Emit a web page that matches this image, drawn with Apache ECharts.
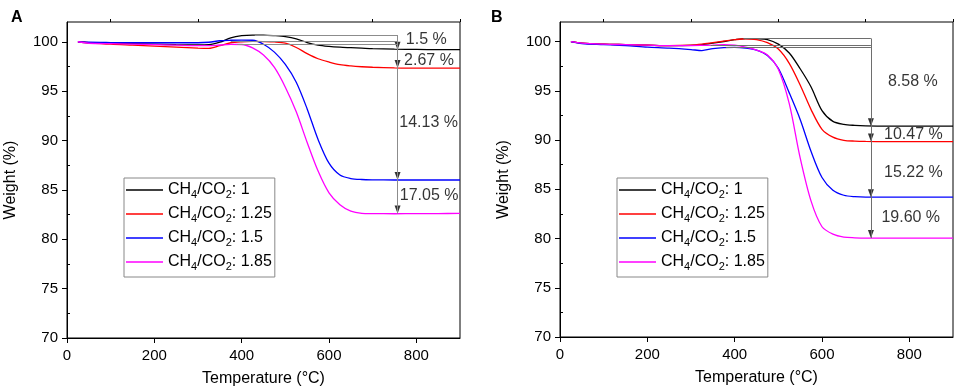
<!DOCTYPE html>
<html>
<head>
<meta charset="utf-8">
<script src="https://cdn.jsdelivr.net/npm/echarts@6/dist/echarts.min.js"></script>
<style>
  html, body { margin: 0; padding: 0; background: #fff; }
  #chart { width: 957px; height: 391px; }
</style>
</head>
<body>
<div id="chart"></div>
<script>
// temperature grid (°C) shared by all curves
const temps = [25, 50, 100, 150, 200, 250, 300, 325, 350, 375, 400, 425, 450, 475, 500, 525, 550, 575, 600, 625, 650, 675, 700, 750, 800, 850, 900];

const seriesNames = ['CH4/CO2: 1', 'CH4/CO2: 1.25', 'CH4/CO2: 1.5', 'CH4/CO2: 1.85'];
const colors = ['#000000', '#ff0000', '#0000ff', '#ff00ff'];

// panel A weights (%)
const weightA1 = [100.0, 99.9, 99.85, 99.8, 99.75, 99.7, 99.68, 99.7, 99.95, 100.4, 100.62, 100.68, 100.68, 100.62, 100.52, 100.3, 99.92, 99.66, 99.53, 99.45, 99.4, 99.35, 99.3, 99.25, 99.22, 99.2, 99.2];
const weightA2 = [100.0, 99.9, 99.75, 99.65, 99.55, 99.45, 99.35, 99.33, 99.6, 99.9, 100.0, 100.03, 100.02, 99.98, 99.85, 99.42, 98.8, 98.28, 97.95, 97.68, 97.55, 97.47, 97.42, 97.36, 97.33, 97.33, 97.33];
const weightA3 = [100.0, 99.95, 99.92, 99.9, 99.9, 99.9, 99.9, 99.95, 100.1, 100.15, 100.17, 100.15, 99.75, 98.95, 97.7, 95.9, 93.2, 90.1, 87.7, 86.5, 86.15, 86.05, 86.02, 86.0, 86.0, 86.0, 86.0];
const weightA4 = [100.0, 99.85, 99.8, 99.75, 99.7, 99.65, 99.6, 99.6, 99.67, 99.73, 99.72, 99.38, 98.65, 97.4, 95.4, 92.9, 89.8, 86.9, 84.7, 83.5, 82.85, 82.63, 82.6, 82.58, 82.6, 82.6, 82.62];

// panel B weights (%)
const weightB1 = [100.0, 99.85, 99.75, 99.7, 99.65, 99.6, 99.62, 99.7, 99.85, 100.02, 100.2, 100.32, 100.3, 100.22, 99.75, 98.85, 97.25, 95.4, 93.0, 91.9, 91.6, 91.5, 91.45, 91.42, 91.42, 91.42, 91.42];
const weightB2 = [100.0, 99.85, 99.75, 99.7, 99.65, 99.6, 99.65, 99.75, 99.9, 100.05, 100.2, 100.3, 100.22, 99.9, 99.25, 97.8, 95.6, 93.1, 91.1, 90.3, 89.98, 89.9, 89.87, 89.85, 89.85, 89.85, 89.85];
const weightB3 = [100.0, 99.8, 99.7, 99.6, 99.45, 99.35, 99.2, 99.1, 99.3, 99.4, 99.42, 99.35, 99.15, 98.6, 97.3, 94.8, 92.1, 88.85, 86.2, 84.9, 84.4, 84.25, 84.2, 84.2, 84.2, 84.2, 84.2];
const weightB4 = [100.0, 99.85, 99.75, 99.7, 99.65, 99.6, 99.6, 99.62, 99.65, 99.7, 99.65, 99.45, 99.15, 98.65, 97.2, 93.7, 88.2, 83.8, 81.2, 80.45, 80.15, 80.08, 80.05, 80.05, 80.05, 80.05, 80.05];

// axis ticks
const xMajor = [0, 200, 400, 600, 800];
const xMinor = [100, 300, 500, 700, 900];
const yMajor = [70, 75, 80, 85, 90, 95, 100];
const yMinor = [72.5, 77.5, 82.5, 87.5, 92.5, 97.5];

// weight-loss annotations: guide lines [start temp, level], arrow column, arrow stops, labels
const guidesA = [[430, 100.68], [375, 100.1], [390, 99.74]];
const arrowXA = 757;
const stopsA = [99.2, 97.33, 86.0, 82.6];
const lossLabelsA = [['1.5 %', 776, 100.17], ['2.67 %', 772, 98.08], ['14.13 %', 761, 91.8], ['17.05 %', 762, 84.47]];

const guidesB = [[420, 100.33], [345, 99.65], [380, 99.39]];
const arrowXB = 712;
const stopsB = [91.42, 89.85, 84.2, 80.05];
const lossLabelsB = [['8.58 %', 751, 95.9], ['10.47 %', 742, 90.6], ['15.22 %', 742, 86.7], ['19.60 %', 736, 82.13]];

const FONT = 'Liberation Sans, Arial, sans-serif';

const chart = echarts.init(document.getElementById('chart'));

function pairs(ys) {
  return temps.map((t, i) => [t, ys[i]]);
}

function axesFor(gridIndex) {
  const xMain = {
    type: 'value', gridIndex, min: 0, max: 900, interval: 100,
    name: 'Temperature (°C)', nameLocation: 'middle', nameGap: 33,
    nameTextStyle: { fontFamily: FONT, fontSize: 16, color: '#000' },
    axisLine: { lineStyle: { color: '#000', width: 1 } },
    axisTick: { customValues: xMajor, length: 5, inside: false, lineStyle: { color: '#000' } },
    axisLabel: { customValues: xMajor, fontFamily: FONT, fontSize: 15, color: '#000', margin: 10 },
    splitLine: { show: false }
  };
  const xMinorAxis = {
    type: 'value', gridIndex, min: 0, max: 900, interval: 100,
    axisLine: { show: false },
    axisTick: { customValues: xMinor, length: 3, lineStyle: { color: '#000' } },
    axisLabel: { show: false },
    splitLine: { show: false }
  };
  const yMain = {
    type: 'value', gridIndex, min: 70, max: 102, interval: 5,
    name: 'Weight (%)', nameLocation: 'middle', nameGap: 48,
    nameTextStyle: { fontFamily: FONT, fontSize: 16, color: '#000' },
    axisLine: { show: true, lineStyle: { color: '#000', width: 1 } },
    axisTick: { show: true, customValues: yMajor, length: 5, lineStyle: { color: '#000' } },
    axisLabel: { customValues: yMajor, fontFamily: FONT, fontSize: 15, color: '#000', margin: 9 },
    splitLine: { show: false }
  };
  const yMinorAxis = {
    type: 'value', gridIndex, min: 70, max: 102, interval: 5,
    axisLine: { show: false },
    axisTick: { show: true, customValues: yMinor, length: 3, lineStyle: { color: '#000' } },
    axisLabel: { show: false },
    splitLine: { show: false }
  };
  return { x: [xMain, xMinorAxis], y: [yMain, yMinorAxis] };
}

function panelSeries(axisIdx, weights, guides, arrowX, stops, lossLabels, guideColor) {
  const out = weights.map((w, i) => ({
    name: seriesNames[i],
    type: 'line',
    xAxisIndex: axisIdx, yAxisIndex: axisIdx,
    data: pairs(w),
    smooth: 0.3,
    symbol: 'none',
    lineStyle: { color: colors[i], width: 1.3 },
    itemStyle: { color: colors[i] },
    z: 3
  }));
  const lines = guides.map(g => [{ coord: [g[0], g[1]] }, { coord: [arrowX, g[1]] }]);
  lines.push([{ coord: [arrowX, guides[0][1]] }, { coord: [arrowX, stops[stops.length - 1]] }]);
  out.push({
    type: 'scatter',
    xAxisIndex: axisIdx, yAxisIndex: axisIdx,
    data: stops.map(v => [arrowX, v]),
    symbol: 'triangle', symbolRotate: 180, symbolSize: [6, 8], symbolOffset: [0, -4],
    itemStyle: { color: '#000' },
    silent: true,
    z: 4,
    markLine: {
      silent: true, symbol: 'none', animation: false,
      label: { show: false },
      lineStyle: { color: guideColor, width: 1, type: 'solid' },
      data: lines
    }
  });
  out.push({
    type: 'scatter',
    xAxisIndex: axisIdx, yAxisIndex: axisIdx,
    data: lossLabels.map(l => [l[1], l[2], l[0]]),
    symbolSize: 0,
    silent: true,
    label: {
      show: true, position: 'right', distance: 0,
      formatter: p => p.value[2],
      fontFamily: FONT, fontSize: 16, color: '#000'
    },
    z: 5
  });
  return out;
}

const axA = axesFor(0);
const axB = axesFor(1);

const legendBase = {
  data: seriesNames,
  orient: 'vertical',
  top: 178,
  icon: 'rect',
  itemWidth: 37,
  itemHeight: 1.5,
  itemGap: 4,
  padding: [2, 3, 5, 2],
  borderColor: '#888',
  borderWidth: 1,
  selectedMode: false,
  formatter: n => n.replace('CH4', 'CH{s|4}').replace('CO2', 'CO{s|2}'),
  textStyle: {
    fontFamily: FONT, fontSize: 16, color: '#000', lineHeight: 20,
    rich: { s: { fontFamily: FONT, fontSize: 11, lineHeight: 11, verticalAlign: 'bottom', color: '#000' } }
  }
};

chart.setOption({
  animation: false,
  title: [
    { text: 'A', left: 6, top: 5, textStyle: { fontFamily: FONT, fontSize: 16, fontWeight: 'bold', color: '#000' } },
    { text: 'B', left: 486, top: 5, textStyle: { fontFamily: FONT, fontSize: 16, fontWeight: 'bold', color: '#000' } }
  ],
  grid: [
    { left: 67, right: 497, top: 22, bottom: 53, outerBoundsMode: 'none', show: true, borderColor: '#000', borderWidth: 1 },
    { left: 560, right: 4, top: 22, bottom: 54, outerBoundsMode: 'none', show: true, borderColor: '#000', borderWidth: 1 }
  ],
  legend: [
    Object.assign({}, legendBase, { left: 124 }),
    Object.assign({}, legendBase, { left: 617 })
  ],
  xAxis: [axA.x[0], axB.x[0], axA.x[1], axB.x[1]],
  yAxis: [axA.y[0], axB.y[0], axA.y[1], axB.y[1]],
  series: [
    ...panelSeries(0, [weightA1, weightA2, weightA3, weightA4], guidesA, arrowXA, stopsA, lossLabelsA, '#8c8c8c'),
    ...panelSeries(1, [weightB1, weightB2, weightB3, weightB4], guidesB, arrowXB, stopsB, lossLabelsB, '#6e6e6e')
  ]
});

window.addEventListener('resize', () => chart.resize());
</script>
</body>
</html>
